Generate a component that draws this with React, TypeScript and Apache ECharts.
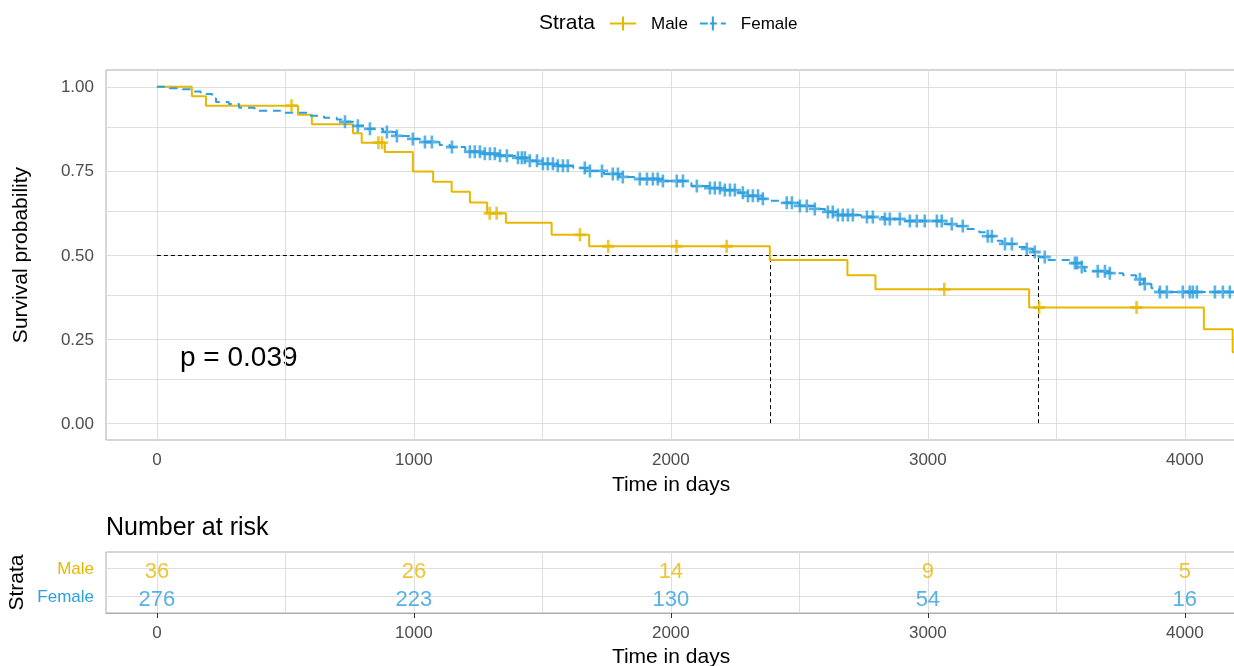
import React, { useEffect, useRef } from "react";
import * as echarts from "echarts";

const MALE_COLOR = "#E7B800";
const FEMALE_COLOR = "#2E9FDF";
const FONT = "'Liberation Sans', Arial, sans-serif";

const X_MIN = -198;
const X_MAX = 4199;
const X_TICKS = [0, 1000, 2000, 3000, 4000];
const X_GRID = [0, 500, 1000, 1500, 2000, 2500, 3000, 3500, 4000];
const Y_TICKS = [0, 0.25, 0.5, 0.75, 1];
const Y_GRID = [0, 0.125, 0.25, 0.375, 0.5, 0.625, 0.75, 0.875, 1];

const MALE_TIMES = [0, 136, 191, 549, 603, 763, 797, 887, 996, 1075, 1147, 1218, 1285, 1358, 1536, 1682, 2385, 2687, 2796, 3394, 4074, 4186];
const MALE_SURV = [1, 0.972, 0.944, 0.917, 0.889, 0.862, 0.834, 0.806, 0.748, 0.718, 0.688, 0.656, 0.624, 0.596, 0.56, 0.526, 0.485, 0.44, 0.398, 0.344, 0.279, 0.211];
const MALE_CENSOR = [524, 862, 876, 1295, 1322, 1646, 1756, 2022, 2217, 3064, 3433, 3812];

const FEMALE_TIMES = [0, 50, 100, 140, 170, 215, 230, 280, 320, 380, 480, 590, 650, 700, 730, 770, 820, 880, 930, 990, 1040, 1100, 1140, 1200, 1260, 1330, 1400, 1440, 1480, 1560, 1620, 1680, 1740, 1800, 1870, 1960, 2060, 2080, 2150, 2200, 2260, 2300, 2340, 2380, 2440, 2500, 2560, 2600, 2650, 2740, 2830, 2900, 3060, 3100, 3140, 3200, 3230, 3260, 3290, 3340, 3380, 3410, 3430, 3460, 3560, 3590, 3610, 3700, 3760, 3810, 3840, 3870, 3900];
const FEMALE_SURV = [1, 0.996, 0.993, 0.986, 0.979, 0.965, 0.955, 0.949, 0.938, 0.929, 0.923, 0.914, 0.908, 0.903, 0.896, 0.884, 0.875, 0.866, 0.854, 0.845, 0.836, 0.827, 0.821, 0.807, 0.801, 0.795, 0.789, 0.78, 0.771, 0.765, 0.759, 0.75, 0.741, 0.732, 0.726, 0.72, 0.714, 0.705, 0.699, 0.693, 0.685, 0.676, 0.667, 0.661, 0.655, 0.646, 0.637, 0.628, 0.619, 0.613, 0.607, 0.601, 0.592, 0.586, 0.577, 0.568, 0.556, 0.542, 0.533, 0.524, 0.518, 0.509, 0.494, 0.485, 0.476, 0.464, 0.452, 0.446, 0.44, 0.428, 0.414, 0.401, 0.39];
const FEMALE_CENSOR = [732, 782, 829, 895, 934, 996, 1043, 1070, 1148, 1218, 1237, 1257, 1276, 1296, 1315, 1335, 1362, 1405, 1420, 1432, 1451, 1479, 1502, 1521, 1541, 1560, 1580, 1599, 1665, 1685, 1732, 1774, 1794, 1813, 1879, 1907, 1930, 1949, 1969, 2023, 2047, 2101, 2152, 2171, 2191, 2210, 2230, 2249, 2280, 2300, 2319, 2339, 2358, 2451, 2471, 2502, 2529, 2560, 2611, 2630, 2650, 2669, 2689, 2708, 2763, 2786, 2833, 2852, 2891, 2930, 2957, 2988, 3035, 3054, 3093, 3136, 3233, 3249, 3300, 3327, 3385, 3416, 3455, 3572, 3580, 3599, 3661, 3689, 3708, 3825, 3844, 3903, 3930, 3992, 4019, 4031, 4047, 4117, 4148, 4175];

const RISK_STRATA = ["Female", "Male"];
const MALE_RISK = [36, 26, 14, 9, 5];
const FEMALE_RISK = [276, 223, 130, 54, 16];
const P_VALUE = "p = 0.039";

const PLUS = "path://M0,4.7H12V7.3H0Z M4.7,0H7.3V12H4.7Z";
const MALE_ICON = "path://M0,6H26V8H0Z M12,0H14V14H12Z";
const FEMALE_ICON = "path://M0,6H8V8H0Z M10,6H17V8H10Z M12,0H14V14H12Z M21,6H26V8H21Z";

function survAt(times: number[], surv: number[], t: number) {
  let s = surv[0];
  for (let i = 0; i < times.length; i++) if (times[i] <= t) s = surv[i];
  return s;
}
function median(times: number[], surv: number[]) {
  for (let i = 0; i < times.length; i++) if (surv[i] <= 0.5) return times[i];
  return NaN;
}
function stepData(times: number[], surv: number[]) {
  const d = times.map((t, i) => [t, surv[i]]);
  d.push([X_MAX + 100, surv[surv.length - 1]]);
  return d;
}

export default function App() {
  const ref = useRef<HTMLDivElement>(null);
  useEffect(() => {
    if (!ref.current) return;
    const chart = echarts.init(ref.current, undefined, { renderer: "svg" });
    const maleMed = median(MALE_TIMES, MALE_SURV);
    const femaleMed = median(FEMALE_TIMES, FEMALE_SURV);
    const gridLineStyle = { color: "#dedede", width: 1, type: "solid" as const };
    const axisCommon = {
      axisLine: { show: true, lineStyle: { color: "#adadad", width: 1 } },
      splitLine: { show: false },
    };
    const xAxisBase = (gridIndex: number, gap: number) => ({
      type: "value",
      gridIndex,
      min: X_MIN,
      max: X_MAX,
      ...axisCommon,
      axisTick: { show: true, length: 5, customValues: X_TICKS, lineStyle: { color: "#333" } },
      axisLabel: { customValues: X_TICKS, formatter: (v: number) => String(v), fontSize: 17, color: "#4d4d4d", margin: 11, fontFamily: FONT },
      name: "Time in days",
      nameLocation: "middle",
      nameGap: gap,
      nameTextStyle: { fontSize: 21, color: "#000", fontFamily: FONT },
    });
    const gridBase = { left: 106, width: 1130, show: true, borderColor: "#adadad", borderWidth: 1, backgroundColor: "#fff", containLabel: false, outerBoundsMode: "none" };
    const option: any = {
      animation: false,
      textStyle: { fontFamily: FONT },
      grid: [
        { ...gridBase, top: 70, height: 370 },
        { ...gridBase, top: 552, height: 61 },
      ],
      legend: {
        left: 610,
        top: 15,
        padding: 0,
        itemWidth: 26,
        itemHeight: 14,
        itemGap: 12,
        selectedMode: false,
        data: [
          { name: "Male", icon: MALE_ICON },
          { name: "Female", icon: FEMALE_ICON },
        ],
        itemStyle: { borderWidth: 0 },
        textStyle: { fontSize: 17, color: "#000", fontFamily: FONT, padding: [0, 0, 0, 10] },
      },
      xAxis: [xAxisBase(0, 33), xAxisBase(1, 32)],
      yAxis: [
        {
          type: "value",
          gridIndex: 0,
          min: -0.05,
          max: 1.05,
          ...axisCommon,
          axisTick: { show: true, length: 6, customValues: Y_TICKS, lineStyle: { color: "#333" } },
          axisLabel: { customValues: Y_TICKS, formatter: (v: number) => v.toFixed(2), fontSize: 17, color: "#4d4d4d", margin: 12, fontFamily: FONT },
          name: "Survival probability",
          nameLocation: "middle",
          nameGap: 76,
          nameTextStyle: { fontSize: 21, color: "#000", fontFamily: FONT },
        },
        {
          type: "value",
          gridIndex: 1,
          min: 0.4,
          max: 2.6,
          ...axisCommon,
          axisTick: { show: true, length: 6, customValues: [1, 2], lineStyle: { color: "#333" } },
          axisLabel: {
            customValues: [1, 2],
            formatter: (v: number) => (Math.round(v) === 2 ? "{m|" + RISK_STRATA[1] + "}" : "{f|" + RISK_STRATA[0] + "}"),
            margin: 12,
            rich: {
              m: { color: MALE_COLOR, fontSize: 17, fontFamily: FONT },
              f: { color: FEMALE_COLOR, fontSize: 17, fontFamily: FONT },
            },
          },
          name: "Strata",
          nameLocation: "middle",
          nameGap: 78,
          nameTextStyle: { fontSize: 21, color: "#000", fontFamily: FONT },
        },
      ],
      series: [
        {
          name: "Male",
          type: "line",
          xAxisIndex: 0,
          yAxisIndex: 0,
          step: "end",
          symbol: "none",
          z: 3,
          data: stepData(MALE_TIMES, MALE_SURV),
          itemStyle: { color: MALE_COLOR },
          lineStyle: { color: MALE_COLOR, width: 2 },
          markLine: {
            silent: true,
            z: 1,
            symbol: ["none", "none"],
            label: { show: false },
            lineStyle: gridLineStyle,
            data: [...X_GRID.map((x) => ({ xAxis: x })), ...Y_GRID.map((y) => ({ yAxis: y }))],
          },
        },
        {
          name: "Female",
          type: "line",
          xAxisIndex: 0,
          yAxisIndex: 0,
          step: "end",
          symbol: "none",
          z: 3,
          data: stepData(FEMALE_TIMES, FEMALE_SURV),
          itemStyle: { color: FEMALE_COLOR },
          lineStyle: { color: FEMALE_COLOR, width: 2, type: [8, 6] },
          markLine: {
            silent: true,
            z: 2,
            symbol: ["none", "none"],
            label: { show: false },
            lineStyle: { color: "#000", width: 1, type: [4, 3] },
            data: [
              [{ coord: [0, 0.5] }, { coord: [femaleMed, 0.5] }],
              [{ coord: [maleMed, 0] }, { coord: [maleMed, 0.5] }],
              [{ coord: [femaleMed, 0] }, { coord: [femaleMed, 0.5] }],
            ],
          },
        },
        {
          name: "Female censor",
          type: "scatter",
          xAxisIndex: 0,
          yAxisIndex: 0,
          symbol: PLUS,
          symbolSize: [12, 13],
          z: 4,
          itemStyle: { color: FEMALE_COLOR },
          data: FEMALE_CENSOR.map((t) => [t, survAt(FEMALE_TIMES, FEMALE_SURV, t)]),
        },
        {
          name: "Male censor",
          type: "scatter",
          xAxisIndex: 0,
          yAxisIndex: 0,
          symbol: PLUS,
          symbolSize: [12, 13],
          z: 4,
          itemStyle: { color: MALE_COLOR },
          data: MALE_CENSOR.map((t) => [t, survAt(MALE_TIMES, MALE_SURV, t)]),
        },
        {
          name: "Male at risk",
          type: "scatter",
          xAxisIndex: 1,
          yAxisIndex: 1,
          symbolSize: 1,
          z: 4,
          itemStyle: { color: "rgba(0,0,0,0)" },
          label: { show: true, position: "inside", offset: [0, 2], formatter: (p: any) => String(p.value[2]), fontSize: 22, color: MALE_COLOR, fontFamily: FONT },
          data: X_TICKS.map((x, i) => [x, 2, MALE_RISK[i]]),
          markLine: {
            silent: true,
            z: 1,
            symbol: ["none", "none"],
            label: { show: false },
            lineStyle: gridLineStyle,
            data: [...X_GRID.map((x) => ({ xAxis: x })), { yAxis: 1 }, { yAxis: 2 }],
          },
        },
        {
          name: "Female at risk",
          type: "scatter",
          xAxisIndex: 1,
          yAxisIndex: 1,
          symbolSize: 1,
          z: 4,
          itemStyle: { color: "rgba(0,0,0,0)" },
          label: { show: true, position: "inside", offset: [0, 2], formatter: (p: any) => String(p.value[2]), fontSize: 22, color: FEMALE_COLOR, fontFamily: FONT },
          data: X_TICKS.map((x, i) => [x, 1, FEMALE_RISK[i]]),
        },
      ],
      graphic: [
        { type: "text", left: 539, top: 11, style: { text: "Strata", font: `21px ${FONT}`, fill: "#000" } },
        { type: "text", left: 180, top: 342, style: { text: P_VALUE, font: `28px ${FONT}`, fill: "#000" } },
        { type: "text", left: 106, top: 513, style: { text: "Number at risk", font: `25px ${FONT}`, fill: "#000" } },
      ],
    };
    chart.setOption(option);
    return () => chart.dispose();
  }, []);
  return <div ref={ref} style={{ position: "fixed", left: 0, top: 0, width: 1234, height: 666 }} />;
}
